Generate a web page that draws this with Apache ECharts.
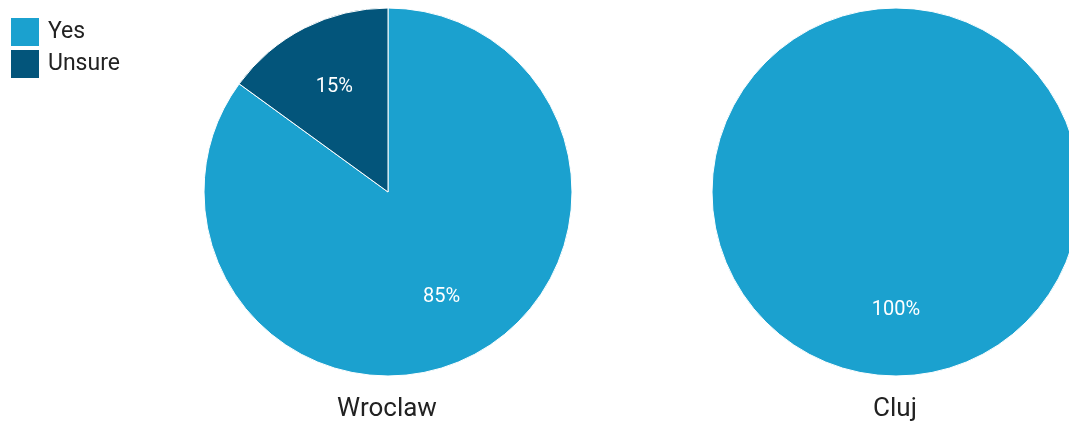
<!DOCTYPE html>
<html>
<head>
<meta charset="utf-8">
<script src="https://cdn.jsdelivr.net/npm/echarts@6/dist/echarts.min.js"></script>
<style>html,body{margin:0;padding:0;background:#fff}#c{width:1069px;height:427px}</style>
</head>
<body>
<div id="c"></div>
<script>
const categories = ['Yes', 'Unsure'];
const cities = ['Wroclaw', 'Cluj'];
const wroclawValues = [85, 15];
const clujValues = [100, 0];
const colors = ['#1ba1cf', '#03557b'];

const cityValues = [wroclawValues, clujValues];
const centersX = [388, 896];
const centerY = 192;
const R = 184;
const font = 'Roboto';

function makeData(vals, hidden) {
  const out = [];
  vals.forEach((v, i) => {
    if (v > 0) out.push({ name: categories[i], value: v,
      itemStyle: { color: hidden ? 'rgba(0,0,0,0)' : colors[i] } });
  });
  return out;
}

const series = [];
cities.forEach((c, k) => {
  series.push({
    type: 'pie', name: c, center: [centersX[k], centerY], radius: [0, R],
    startAngle: 90, clockwise: true, animation: false,
    itemStyle: { borderColor: '#fff', borderWidth: 1 },
    label: { show: false }, labelLine: { show: false },
    emphasis: { disabled: true },
    data: makeData(cityValues[k], false)
  });
});
cities.forEach((c, k) => {
  series.push({
    type: 'pie', name: c + '-labels', center: [centersX[k], centerY], radius: [R / 4, R],
    startAngle: 90, clockwise: true, animation: false, silent: true,
    itemStyle: { borderWidth: 0 },
    label: { show: true, position: 'inside', color: '#fff', fontSize: 20, fontFamily: font,
      formatter: p => p.value + '%' },
    labelLine: { show: false },
    emphasis: { disabled: true },
    data: makeData(cityValues[k], true)
  });
});

const chart = echarts.init(document.getElementById('c'));
chart.setOption({
  animation: false,
  legend: {
    orient: 'vertical', left: 11, top: 18, padding: 0, itemWidth: 28, itemHeight: 28, itemGap: 4,
    icon: 'rect', data: categories,
    itemStyle: { borderWidth: 0 },
    textStyle: { fontSize: 23, color: '#222', fontFamily: font, padding: [4, 0, 0, 4] }
  },
  title: cities.map((c, k) => ({
    text: c, left: centersX[k] - 1, top: 396, textAlign: 'center', padding: 0,
    textStyle: { fontSize: 26, fontWeight: 'normal', color: '#222', fontFamily: font }
  })),
  series: series
});
</script>
</body>
</html>
